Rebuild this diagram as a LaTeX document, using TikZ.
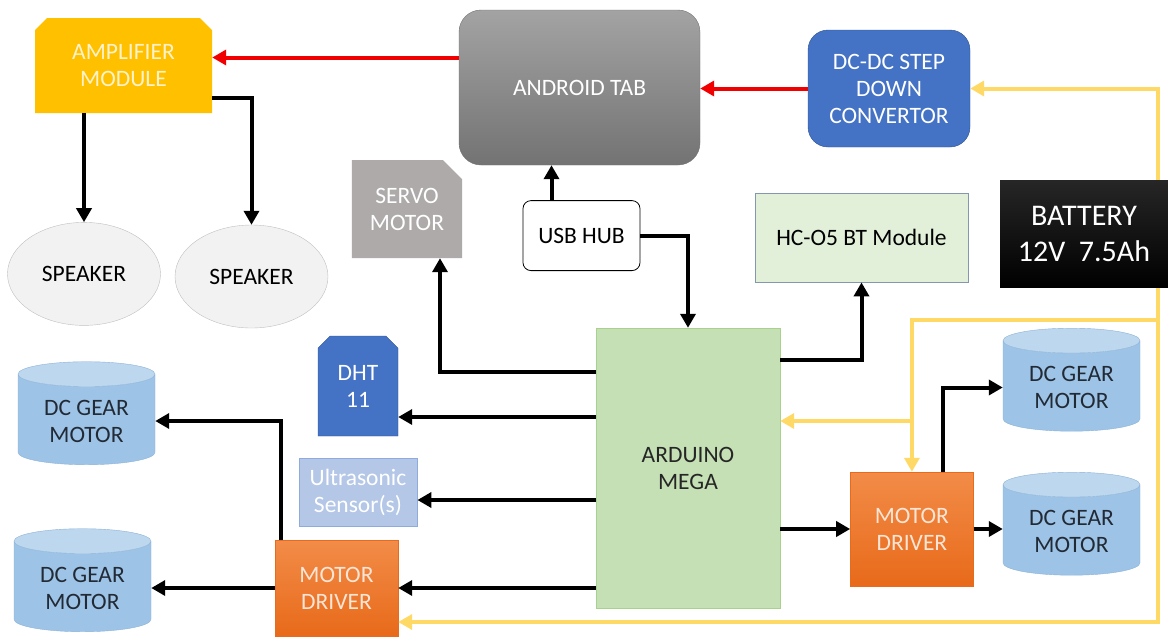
\documentclass[tikz,border=0pt]{standalone}
\usepackage{fontspec}
\setmainfont{Carlito}
\usetikzlibrary{positioning,arrows.meta,shapes.misc,shapes.geometric,calc}

\definecolor{ampgold}{HTML}{FFC000}
\definecolor{amptext}{HTML}{FFF2CC}
\definecolor{tabtop}{HTML}{A3A3A3}
\definecolor{tabbot}{HTML}{737373}
\definecolor{dcblue}{HTML}{4472C4}
\definecolor{dcedge}{HTML}{2F528F}
\definecolor{servogray}{HTML}{AEAAAA}
\definecolor{btfill}{HTML}{E2F0D9}
\definecolor{btedge}{HTML}{8497B0}
\definecolor{ardfill}{HTML}{C5E0B4}
\definecolor{ardedge}{HTML}{A9D18E}
\definecolor{usfill}{HTML}{B4C7E7}
\definecolor{usedge}{HTML}{8FAADC}
\definecolor{drvtop}{HTML}{F28C48}
\definecolor{drvbot}{HTML}{E86A1A}
\definecolor{drvtext}{HTML}{FBE5D6}
\definecolor{gmbody}{HTML}{9DC3E6}
\definecolor{gmtop}{HTML}{BDD7EE}
\definecolor{gmedge}{HTML}{8CB2D8}
\definecolor{gmtext}{HTML}{222A35}
\definecolor{spkfill}{HTML}{F2F2F2}
\definecolor{spkedge}{HTML}{BFBFBF}
\definecolor{pwr}{HTML}{FFD966}
\definecolor{sigred}{HTML}{F00000}

\tikzstyle{block}=[inner sep=2pt, text centered, align=center, font=\fontsize{23.5}{27}\selectfont]
\tikzstyle{ampbox}=[block, chamfered rectangle, chamfered rectangle corners={north west,north east}, chamfered rectangle xsep=9pt, fill=ampgold, text=amptext, minimum width=177pt, minimum height=95pt]
\tikzstyle{tabbox}=[block, rectangle, rounded corners=22pt, top color=tabtop, bottom color=tabbot, draw=tabbot, text=white, minimum width=241pt, minimum height=155pt]
\tikzstyle{dcbox}=[block, rectangle, rounded corners=20pt, fill=dcblue, draw=dcedge, text=white, minimum width=162pt, minimum height=117pt]
\tikzstyle{batbox}=[block, rectangle, top color=black!85, bottom color=black, text=white, minimum width=168pt, minimum height=107pt, font=\fontsize{30}{36}\selectfont]
\tikzstyle{servobox}=[block, chamfered rectangle, chamfered rectangle corners=north east, chamfered rectangle xsep=16pt, fill=servogray, text=white, minimum width=108pt, minimum height=98pt]
\tikzstyle{hubbox}=[block, rectangle, rounded corners=8pt, draw=black, thick, fill=white, minimum width=117pt, minimum height=70pt]
\tikzstyle{btbox}=[block, rectangle, fill=btfill, draw=btedge, thick, minimum width=213pt, minimum height=89pt]
\tikzstyle{ardbox}=[block, rectangle, fill=ardfill, draw=ardedge, text=black!85, minimum width=184pt, minimum height=280pt]
\tikzstyle{dhtbox}=[block, chamfered rectangle, chamfered rectangle corners={north west,north east}, chamfered rectangle xsep=9pt, fill=dcblue, draw=dcedge, text=white, minimum width=80pt, minimum height=100pt]
\tikzstyle{usbox}=[block, rectangle, fill=usfill, draw=usedge, thick, text=white, minimum width=118pt, minimum height=68pt]
\tikzstyle{drvbox}=[block, rectangle, top color=drvtop, bottom color=drvbot, draw=drvbot, text=drvtext, minimum width=123pt]
\tikzstyle{gearbox}=[block, cylinder, shape border rotate=90, aspect=0.28, draw=gmedge, cylinder uses custom fill, cylinder body fill=gmbody, cylinder end fill=gmtop, text=gmtext, minimum width=137pt, minimum height=103pt]
\tikzstyle{spkbox}=[block, ellipse, fill=spkfill, draw=spkedge, text=black, minimum width=153pt, minimum height=103pt]
\tikzstyle{line}=[-{Triangle[length=14pt,width=15pt]}, line width=4pt, black]
\tikzstyle{rline}=[line, sigred]
\tikzstyle{pline}=[-{Triangle[length=14pt,width=15pt]}, line width=4pt, pwr]

\begin{document}
\begin{tikzpicture}[x=1pt, y=1pt]
\useasboundingbox (0,0) rectangle (1168,-638);

    \node (ard) [ardbox] at (688,-468) {ARDUINO\\MEGA};
    \node (tab) [tabbox] at (579.5,-87.5) {ANDROID TAB};
    \node (dcdc) [dcbox] at (889,-88.5) {DC-DC STEP\\DOWN\\CONVERTOR};
    \node (amp) [ampbox] at (123.5,-65.5) {AMPLIFIER\\MODULE};
    \node (spka) [spkbox, below=109pt of amp, xshift=-39.5pt] {SPEAKER};
    \node (spkb) [spkbox] at (251.5,-276.5) {SPEAKER};
    \node (servo) [servobox] at (407,-209) {SERVO\\MOTOR};
    \node (hub) [hubbox, below=35pt of tab, xshift=2pt] {USB HUB};
    \node (bt) [btbox] at (861.5,-237.5) {HC-O5 BT Module};
    \node (dht) [dhtbox] at (358,-386) {DHT\\11};
    \node (us) [usbox] at (358,-492) {Ultrasonic\\Sensor(s)};
    \node (mdl) [drvbox, minimum height=96pt] at (336.5,-588) {MOTOR\\DRIVER};
    \node (mdr) [drvbox, minimum height=114pt, right=70pt of ard, yshift=-61pt] {MOTOR\\DRIVER};
    \node (gma) [gearbox] at (86.5,-421) {DC GEAR\\MOTOR};
    \node (gmb) [gearbox] at (82.5,-588) {DC GEAR\\MOTOR};
    \node (gmc) [gearbox] at (1071.5,-387.5) {DC GEAR\\MOTOR};
    \node (gmd) [gearbox] at (1071.5,-531.5) {DC GEAR\\MOTOR};

%power from battery, drawn first so the battery sits on top
    \coordinate (ptap) at (1158,-320);
    \draw[pline] (1158,-200) |- (dcdc.east);
    \draw[pline] (1158,-260) |- ([yshift=-34pt]mdl.east);
    \draw[pline] (ptap) -| (mdr.north);
    \draw[pline] ([yshift=47pt]ard.east -| mdr.north) -- ([yshift=47pt]ard.east);
    \node (bat) [batbox] at (1084,-233.5) {BATTERY\\12V\ \ 7.5Ah};

%android side
    \draw[rline] ([yshift=30pt]tab.west) -- ([yshift=30pt]tab.west -| amp.east);
    \draw[rline] (dcdc.west) -- (dcdc.west -| tab.east);
    \draw[line] (spka.north |- amp.south) -- (spka.north);
    \draw[line] ([yshift=-32pt]amp.east) -| (spkb.north);
    \draw[line] ([xshift=-30pt]hub.north) -- ([xshift=-30pt]hub.north |- tab.south);
    \draw[line] (hub.east) -| (ard.north);

%arduino outputs
    \draw[line] ([yshift=108pt]ard.east) -| (bt.south);
    \draw[line] ([yshift=96pt]ard.west) -| ([xshift=33pt]servo.south);
    \draw[line] ([yshift=51pt]ard.west) -- ([yshift=51pt]ard.west -| dht.east);
    \draw[line] ([yshift=-32pt]ard.west) -- ([yshift=-32pt]ard.west -| us.east);
    \draw[line] (ard.west |- mdl.east) -- (mdl.east);
    \draw[line] (ard.east |- mdr.west) -- (mdr.west);

%motor drivers
    \draw[line] (mdl.west) -- (mdl.west -| gmb.east);
    \draw[line] ([xshift=-56pt]mdl.north) |- (gma.east);
    \draw[line] ([xshift=31pt]mdr.north) |- (gmc.west);
    \draw[line] (mdr.east) -- (mdr.east -| gmd.west);

\end{tikzpicture}
\end{document}
